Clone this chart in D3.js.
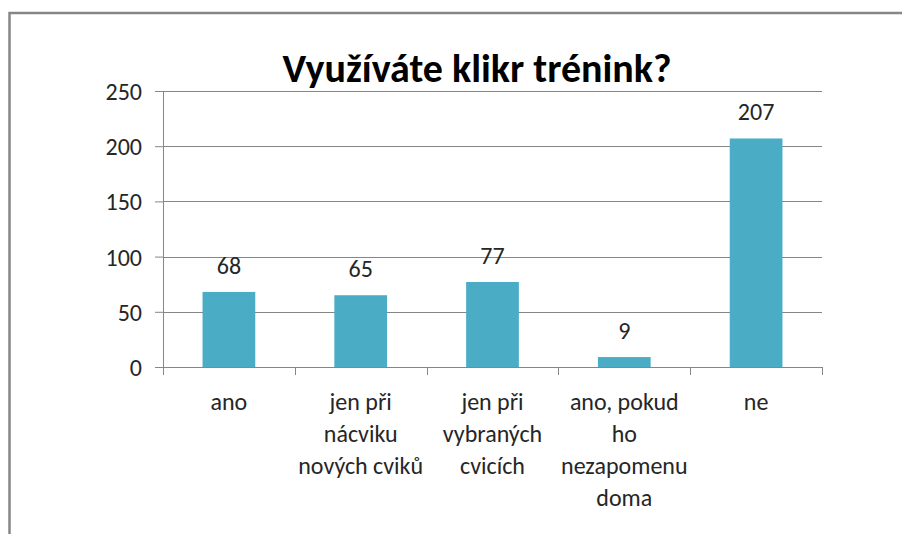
<!DOCTYPE html>
<html>
<head>
<meta charset="utf-8">
<script src="https://cdn.jsdelivr.net/npm/d3@7"></script>
<style>
  body { margin: 0; background: #fff; }
  svg text { font-family: Carlito, Calibri, Lato, "Open Sans", sans-serif; fill: #262626; }
</style>
</head>
<body>
<div id="chart"></div>
<script>
// Data
const categories = [
  ["ano"],
  ["jen při", "nácviku", "nových cviků"],
  ["jen při", "vybraných", "cvicích"],
  ["ano, pokud", "ho", "nezapomenu", "doma"],
  ["ne"]
];
const values = [68, 65, 77, 9, 207];
const yTicks = [0, 50, 100, 150, 200, 250];

const width = 902;
const height = 534;
const margin = { top: 91, right: 80, bottom: 167, left: 163 };

const svg = d3.select("#chart")
  .append("svg")
  .attr("width", width)
  .attr("height", height);

// chart frame (only left and top edges visible)
svg.append("path")
  .attr("d", `M9.5,${height} V13 H${width}`)
  .attr("fill", "none")
  .attr("stroke", "#868686")
  .attr("stroke-width", 2.5);

// Title
svg.append("text")
  .attr("x", 477)
  .attr("y", 82)
  .attr("text-anchor", "middle")
  .style("font-size", "40px")
  .style("font-weight", "bold")
  .style("fill", "#000")
  .text("Využíváte klikr trénink?");

const idx = d3.range(values.length);

const x = d3.scaleBand()
  .domain(idx)
  .range([margin.left, width - margin.right])
  .paddingInner(0.6)
  .paddingOuter(0.3);

const y = d3.scaleLinear()
  .domain([0, 250])
  .range([height - margin.bottom, margin.top]);

// Gridlines
svg.append("g")
  .selectAll("line")
  .data(yTicks.slice(1))
  .join("line")
  .attr("x1", margin.left)
  .attr("x2", width - margin.right)
  .attr("y1", d => Math.round(y(d)) + 0.5)
  .attr("y2", d => Math.round(y(d)) + 0.5)
  .attr("stroke", "#868686")
  .attr("stroke-width", 1);

// Y axis
const yAxis = svg.append("g")
  .attr("transform", `translate(${margin.left},0)`)
  .call(d3.axisLeft(y).tickValues(yTicks).tickSize(8).tickPadding(13));
yAxis.select(".domain").attr("stroke", "#868686").attr("d", `M0.5,${y(250)}V${y(0) + 8}`);
yAxis.selectAll(".tick line").attr("stroke", "#868686");
yAxis.selectAll(".tick text").style("font-size", "24px").attr("dy", "0.35em");

// Bars
svg.append("g")
  .selectAll("rect")
  .data(values)
  .join("rect")
  .attr("x", (d, i) => x(i))
  .attr("width", x.bandwidth())
  .attr("y", d => y(d))
  .attr("height", d => y(0) - y(d))
  .attr("fill", "#4bacc6");

// X axis baseline + category ticks
const step = (width - margin.right - margin.left) / values.length;
const xb = svg.append("g");
xb.append("line")
  .attr("x1", margin.left - 8)
  .attr("x2", width - margin.right)
  .attr("y1", Math.round(y(0)) + 0.5)
  .attr("y2", Math.round(y(0)) + 0.5)
  .attr("stroke", "#868686");
xb.selectAll("line.t")
  .data(d3.range(values.length + 1))
  .join("line")
  .attr("class", "t")
  .attr("x1", i => Math.round(margin.left + i * step) + 0.5)
  .attr("x2", i => Math.round(margin.left + i * step) + 0.5)
  .attr("y1", y(0))
  .attr("y2", y(0) + 8)
  .attr("stroke", "#868686");

// Data labels
svg.append("g")
  .selectAll("text")
  .data(values)
  .join("text")
  .attr("x", (d, i) => x(i) + x.bandwidth() / 2)
  .attr("y", d => y(d) - 18)
  .attr("text-anchor", "middle")
  .style("font-size", "24px")
  .text(d => d);

// Category labels
const cat = svg.append("g")
  .selectAll("text")
  .data(categories)
  .join("text")
  .attr("x", (d, i) => x(i) + x.bandwidth() / 2)
  .attr("y", 410)
  .attr("text-anchor", "middle")
  .style("font-size", "24px");
cat.selectAll("tspan")
  .data(d => d)
  .join("tspan")
  .attr("x", function () { return this.parentNode.getAttribute("x"); })
  .attr("dy", (d, i) => i === 0 ? 0 : 32)
  .text(d => d);
</script>
</body>
</html>
